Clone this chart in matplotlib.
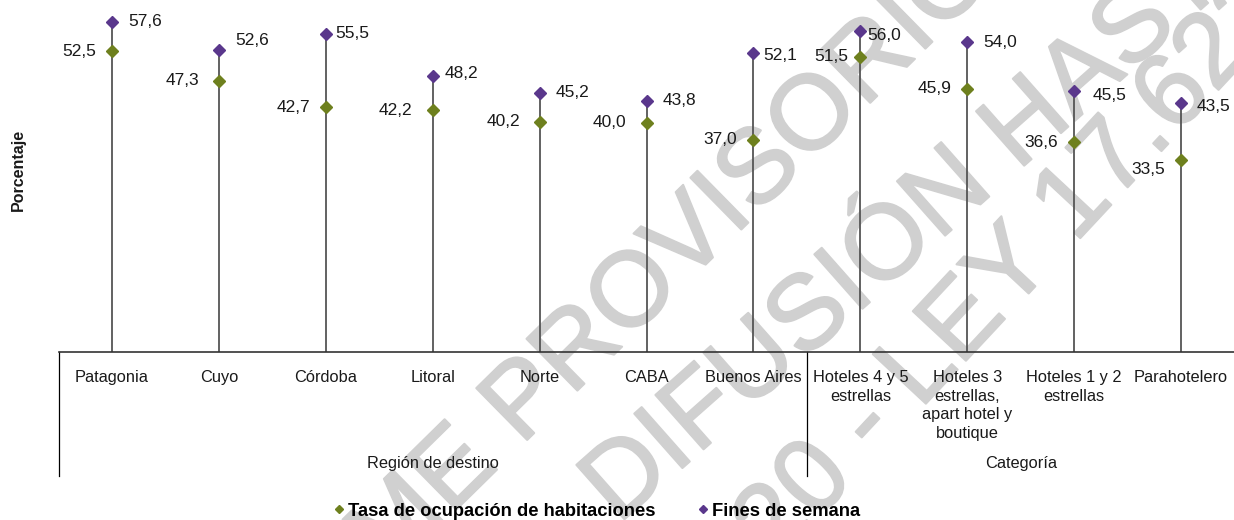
import numpy as np
import matplotlib
matplotlib.use("Agg")
import matplotlib.pyplot as plt
import matplotlib.patheffects as pe
from matplotlib.lines import Line2D

plt.rcParams['font.family'] = ['Liberation Sans', 'DejaVu Sans']

# datos
categorias = ["Patagonia", "Cuyo", "Córdoba", "Litoral", "Norte", "CABA", "Buenos Aires",
              "Hoteles 4 y 5\nestrellas", "Hoteles 3\nestrellas,\napart hotel y\nboutique",
              "Hoteles 1 y 2\nestrellas", "Parahotelero"]
tasa = [52.5, 47.3, 42.7, 42.2, 40.2, 40.0, 37.0, 51.5, 45.9, 36.6, 33.5]
fines = [57.6, 52.6, 55.5, 48.2, 45.2, 43.8, 52.1, 56.0, 54.0, 45.5, 43.5]
grupos = ["Región de destino", "Categoría"]
n_region = 7

verde = '#6e801e'
violeta = '#5a378c'
texto = '#1a1a1a'
W, H = 1234, 520

fig = plt.figure(figsize=(W / 100, H / 100), dpi=100)
ax = fig.add_axes([58.5 / W, 168 / H, 1176 / W, 344 / H])
ax.patch.set_alpha(0)

x = np.arange(len(categorias))
ax.vlines(x, 0, fines, color='#555555', lw=1.3, zorder=2)
ax.plot(x, tasa, 'D', ms=6.2, color=verde, zorder=3)
ax.plot(x, fines, 'D', ms=6.2, color=violeta, zorder=3)

# ajustes manuales de etiquetas (pixeles)
ajuste_f = {1: (0, 10), 2: (-6, 0), 3: (-4, 2), 6: (-6, -2), 7: (-9, -5), 9: (2, -4), 10: (0, -4)}
ajuste_t = {1: (-4, 0), 3: (-4, 0), 4: (-3, 0), 5: (-4, 0), 7: (4, 0), 10: (0, -10)}
for i in x:
    dx, dy = ajuste_f.get(i, (0, 0))
    ax.annotate(f"{fines[i]:.1f}".replace('.', ','), (i, fines[i]), xytext=(16 + dx, dy),
                textcoords='offset pixels', ha='left', va='center', fontsize=12.5, color=texto)
    dx, dy = ajuste_t.get(i, (0, 0))
    ax.annotate(f"{tasa[i]:.1f}".replace('.', ','), (i, tasa[i]), xytext=(-16 + dx, dy),
                textcoords='offset pixels', ha='right', va='center', fontsize=12.5, color=texto)

ax.set_xlim(-0.5, len(categorias) - 0.5)
ax.set_ylim(0, 60)
ax.set_yticks([])
for s in ['left', 'right', 'top']:
    ax.spines[s].set_visible(False)
ax.spines['bottom'].set_color('#333333')
ax.spines['bottom'].set_linewidth(1.2)
ax.set_xticks(x)
ax.set_xticklabels(categorias, fontsize=11.8, color=texto, linespacing=1.3)
ax.tick_params(axis='x', length=0, pad=13)

# separadores de grupos
tr = ax.get_xaxis_transform()
for xs in [-0.5, n_region - 0.5]:
    ax.plot([xs, xs], [0, -0.36], color='black', lw=0.9, transform=tr, clip_on=False)
ax.text((n_region - 1) / 2, -0.325, grupos[0], transform=tr, ha='center', va='center',
        fontsize=11.8, color=texto)
ax.text((n_region + len(categorias) - 1) / 2, -0.325, grupos[1], transform=tr, ha='center',
        va='center', fontsize=11.8, color=texto)

fig.text(18 / W, 1 - 170 / H, "Porcentaje", rotation=90, ha='center', va='center',
         fontsize=11.5, fontweight='bold', color=texto)

handles = [Line2D([], [], marker='D', ls='none', color=verde, ms=4.5),
           Line2D([], [], marker='D', ls='none', color=violeta, ms=4.5)]
fig.legend(handles, ["Tasa de ocupación de habitaciones", "Fines de semana"], loc='center',
           bbox_to_anchor=(597 / W, 1 - 511 / H), ncol=2, frameon=False, handlelength=0.6,
           handletextpad=0.2, columnspacing=2.3, prop={'weight': 'bold', 'size': 13.2})

# marca de agua
em = 106
gris = '#d0d0d0'
marca = [("INFORME", "PROVISORIO", (521, 446), 44.5),
         ("", "DIFUSIÓN HASTA", (618, 525), 41.5),
         ("2020 -", "LEY 17.622", (920, 410), 47)]
for izq, der, (px, py), ang in marca:
    c, s = np.cos(np.radians(ang)), np.sin(np.radians(ang))
    kw = dict(rotation=ang, rotation_mode='anchor', va='baseline', fontsize=76,
              color=gris, zorder=-1,
              path_effects=[pe.withStroke(linewidth=1.5, foreground=gris)])
    fig.text(px / W, 1 - py / H, der, ha='left', **kw)
    if izq:
        qx, qy = px - 0.28 * em * c, py + 0.28 * em * s
        fig.text(qx / W, 1 - qy / H, izq, ha='right', **kw)

fig.savefig("out.png", dpi=100)
